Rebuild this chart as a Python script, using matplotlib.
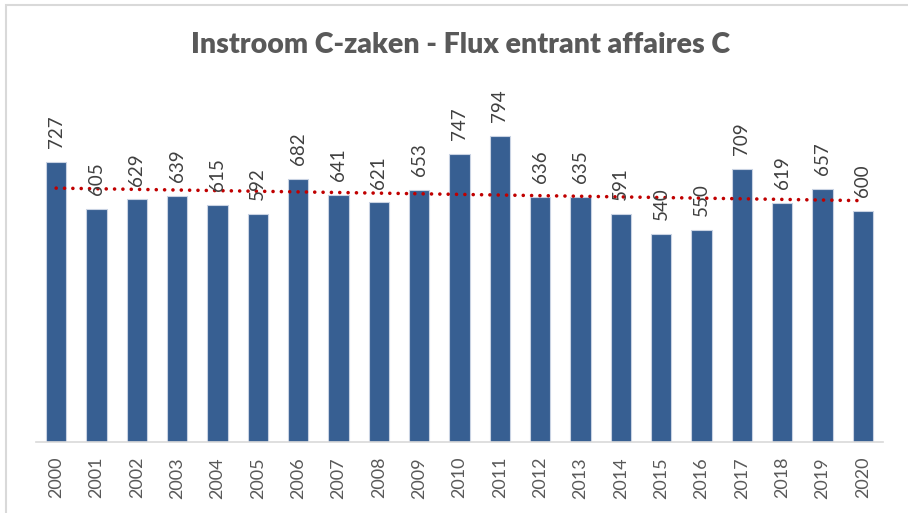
import matplotlib
matplotlib.use("Agg")
import matplotlib.pyplot as plt
import numpy as np
from matplotlib.patches import Rectangle

years = [str(y) for y in range(2000, 2021)]
values = [727, 605, 629, 639, 615, 592, 682, 641, 621, 653, 747, 794,
          636, 635, 591, 540, 550, 709, 619, 657, 600]

plt.rcParams['font.family'] = ['Lato', 'DejaVu Sans']
W, H = 908, 513
fig = plt.figure(figsize=(W/100, H/100), dpi=100)

# outer frame
fig.add_artist(Rectangle((6/W, -0.1), 1.1, 1 - 5/H + 0.1, transform=fig.transFigure,
                         fill=False, edgecolor='#d9d9d9', linewidth=1.5))

ax = fig.add_axes([36/W, 1 - 441.7/H, (883-36)/W, (441.7-95)/H])
x = np.arange(len(years))
bars = ax.bar(x, values, width=0.5, color='#375F92', edgecolor='#c9d3e3', linewidth=0.8)

# linear trendline
coef = np.polyfit(x, values, 1)
ax.plot(x, np.polyval(coef, x), color='#C00000', linewidth=2.6,
        linestyle=(0, (0.01, 2.3)), dash_capstyle='round')

for xi, v in zip(x, values):
    ax.annotate(str(v), (xi, v), xytext=(0, 10), textcoords='offset points',
                rotation=90, ha='center', va='bottom', fontsize=13.5, color='#404040')

ax.set_xlim(-0.5, len(years) - 0.5)
ax.set_ylim(0, 900)
ax.set_xticks(x)
ax.set_xticklabels(years, rotation=90, fontsize=13, color='#595959')
ax.tick_params(axis='x', length=0, pad=11)
ax.set_yticks([])
for s in ['top', 'right', 'left']:
    ax.spines[s].set_visible(False)
ax.spines['bottom'].set_color('#d9d9d9')
ax.spines['bottom'].set_linewidth(1.2)
ax.patch.set_alpha(0)

fig.text(460/W, 1 - 45/H, 'Instroom C-zaken - Flux entrant affaires C', ha='center', va='center',
         fontsize=20.5, fontweight='heavy', color='#595959')

fig.savefig('out.png', dpi=100)
